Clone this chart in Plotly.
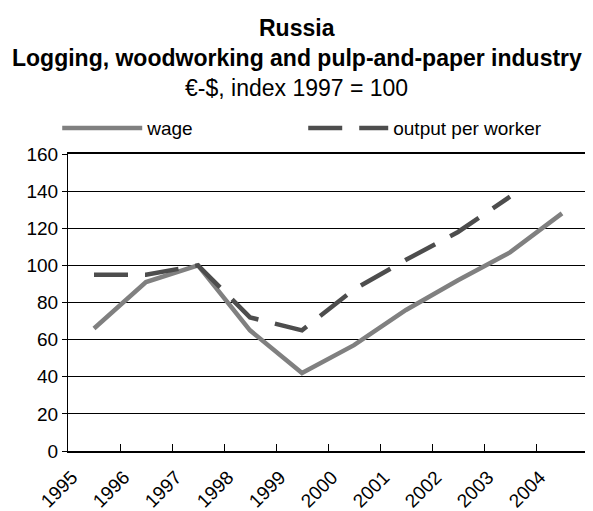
import plotly.graph_objects as go

years = ['1995', '1996', '1997', '1998', '1999', '2000', '2001', '2002', '2003', '2004']
wage = [66, 91, 100, 65, 42, 57, 76, 92, 107, 128]
output_per_worker = [95, 95, 100, 72, 65, 87, 103, 118, 137, None]

title_lines = ['<b>Russia</b>',
               '<b>Logging, woodworking and pulp-and-paper industry</b>',
               '€-$, index 1997 = 100']

fnt = "Liberation Sans, Arial, sans-serif"

fig = go.Figure()
fig.add_trace(go.Scatter(x=years, y=wage, name='wage', mode='lines',
                         line=dict(color='#808080', width=4.5)))
fig.add_trace(go.Scatter(x=years, y=output_per_worker, name='output per worker', mode='lines',
                         line=dict(color='#4d4d4d', width=4.5, dash='34px,17px')))

# title lines as annotations so the spacing can be set
for txt, yy in zip(title_lines, [1.424, 1.322, 1.221]):
    fig.add_annotation(text=txt, xref='paper', yref='paper', x=0.44, y=yy,
                       xanchor='center', yanchor='middle', showarrow=False,
                       font=dict(family=fnt, size=23, color='black'))

fig.update_layout(
    width=593, height=511,
    margin=dict(l=60, r=13, t=146, b=68, autoexpand=False),
    paper_bgcolor='white', plot_bgcolor='white',
    font=dict(family=fnt, size=19, color='black'),
    legend=dict(orientation='h', xref='container', x=0.083, xanchor='left',
                yref='container', y=0.765, yanchor='middle',
                itemwidth=80, entrywidth=151, entrywidthmode='pixels', font=dict(size=19),
                bgcolor='rgba(0,0,0,0)', tracegroupgap=0),
    showlegend=True,
)

fig.update_xaxes(type='category', range=[-0.5, 9.5], tickangle=-45, showline=True,
                 linecolor='black', linewidth=1.5, mirror=True, ticks='inside', ticklen=7,
                 tickcolor='black', tickson='boundaries', showgrid=False,
                 ticklabelshift=-22, ticklabelstandoff=6, automargin=False,
                 tickfont=dict(size=19))
fig.update_yaxes(range=[0, 160], dtick=20, showline=True, linecolor='black', linewidth=1,
                 mirror=True, ticks='outside', ticklen=5, tickcolor='black',
                 showgrid=True, gridcolor='black', gridwidth=1, zeroline=False,
                 automargin=False, tickfont=dict(size=19))

fig.write_html("out.html")
